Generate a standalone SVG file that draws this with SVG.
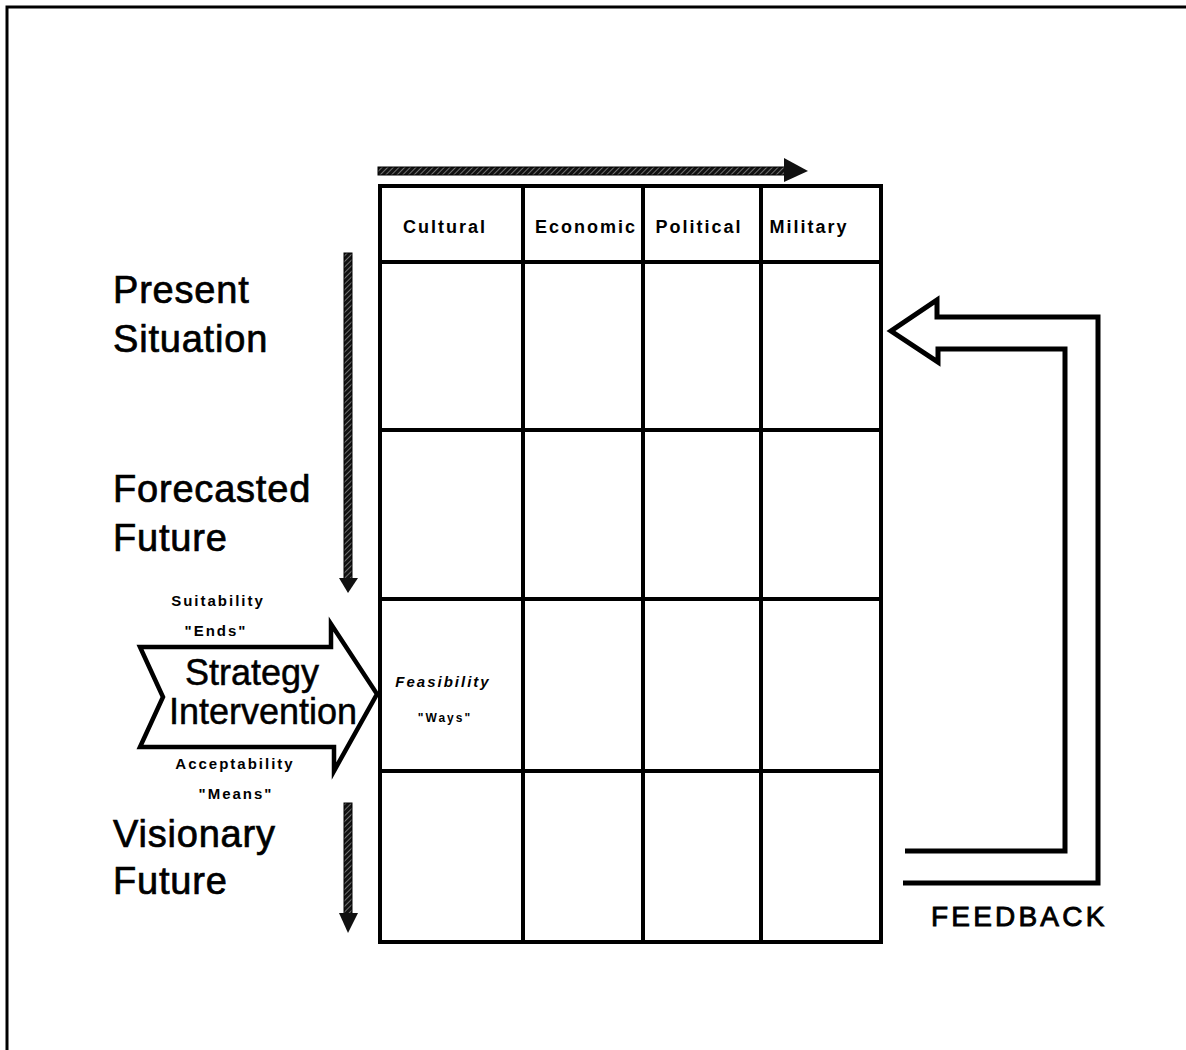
<svg xmlns="http://www.w3.org/2000/svg" width="1186" height="1050" viewBox="0 0 1186 1050">
<style>
.frame{fill:none;stroke:#000;stroke-width:3}
.grid{fill:none;stroke:#000;stroke-width:4}
.big{font-family:"Liberation Sans",Arial,sans-serif;font-size:38px;letter-spacing:0.8px;fill:#000;stroke:#000;stroke-width:0.7}
.hdr{font-family:"Liberation Sans",Arial,sans-serif;font-size:18px;font-weight:bold;letter-spacing:2px;fill:#000;text-anchor:middle}
.sm{font-family:"Liberation Sans",Arial,sans-serif;font-size:15px;font-weight:bold;letter-spacing:2px;fill:#000;text-anchor:middle}
.strat{font-family:"Liberation Sans",Arial,sans-serif;font-size:36px;fill:#000;text-anchor:middle;stroke:#000;stroke-width:0.5}
.fb{font-family:"Liberation Sans",Arial,sans-serif;font-size:28px;letter-spacing:3.2px;fill:#000;stroke:#000;stroke-width:0.9}
.hatch{fill:url(#hp);stroke:#000;stroke-width:1}
.outline{fill:#fff;stroke:#000;stroke-width:5;stroke-linejoin:miter}
</style>
<defs>
<pattern id="hp" patternUnits="userSpaceOnUse" width="4" height="4" patternTransform="rotate(45)">
<rect width="4" height="4" fill="#111"/>
<line x1="0" y1="0" x2="0" y2="4" stroke="#fff" stroke-width="0.8"/>
</pattern>
</defs>
<path class="frame" d="M7,1050 V7 H1186"/>
<g id="grid">
<rect class="grid" x="380" y="186" width="501" height="756"/>
<line class="grid" x1="380" y1="262" x2="881" y2="262"/>
<line class="grid" x1="380" y1="430" x2="881" y2="430"/>
<line class="grid" x1="380" y1="599" x2="881" y2="599"/>
<line class="grid" x1="380" y1="771" x2="881" y2="771"/>
<line class="grid" x1="523" y1="186" x2="523" y2="942"/>
<line class="grid" x1="643" y1="186" x2="643" y2="942"/>
<line class="grid" x1="761" y1="186" x2="761" y2="942"/>
</g>
<g id="headers">
<text class="hdr" x="445" y="233">Cultural</text>
<text class="hdr" x="586" y="233">Economic</text>
<text class="hdr" x="699" y="233">Political</text>
<text class="hdr" x="809" y="233">Military</text>
</g>
<g id="row-labels">
<text class="big" x="113" y="303">Present</text>
<text class="big" x="113" y="352">Situation</text>
<text class="big" x="113" y="502">Forecasted</text>
<text class="big" x="113" y="551">Future</text>
<text class="big" x="113" y="847">Visionary</text>
<text class="big" x="113" y="894">Future</text>
</g>
<g id="strategy">
<path class="outline" style="stroke-width:4.5" d="M140,647 H331 V624 L377,694 L334,771 V747 H140 L163,697 Z"/>
<text class="strat" x="252" y="685">Strategy</text>
<text class="strat" x="263" y="724">Intervention</text>
</g>
<g id="small-labels">
<text class="sm" x="218" y="606">Suitability</text>
<text class="sm" x="216" y="636">"Ends"</text>
<text class="sm" x="235" y="769">Acceptability</text>
<text class="sm" x="236" y="799">"Means"</text>
<text class="sm" x="443" y="687" font-style="italic">Feasibility</text>
<text class="sm" x="445" y="722" style="font-size:12px">"Ways"</text>
</g>
<g id="connectors">
<g id="arrow-top">
<rect class="hatch" x="378" y="167" width="407" height="8"/>
<polygon fill="#111" points="784,158 808,171 784,182"/>
</g>
<g id="arrow-down-1">
<rect class="hatch" x="344" y="253" width="8" height="327"/>
<polygon fill="#111" points="339,578 358,578 348,593"/>
</g>
<g id="arrow-down-2">
<rect class="hatch" x="344" y="803" width="8" height="112"/>
<polygon fill="#111" points="339,913 358,913 348,933"/>
</g>
<g id="feedback">
<path fill="none" stroke="#000" stroke-width="5" stroke-linejoin="miter" d="M905,851 H1065 V349 H938 V362 L891,331 L937,300 V317 H1098 V883 H903"/>
</g>
</g>
<text class="fb" x="931" y="926">FEEDBACK</text>
</svg>
